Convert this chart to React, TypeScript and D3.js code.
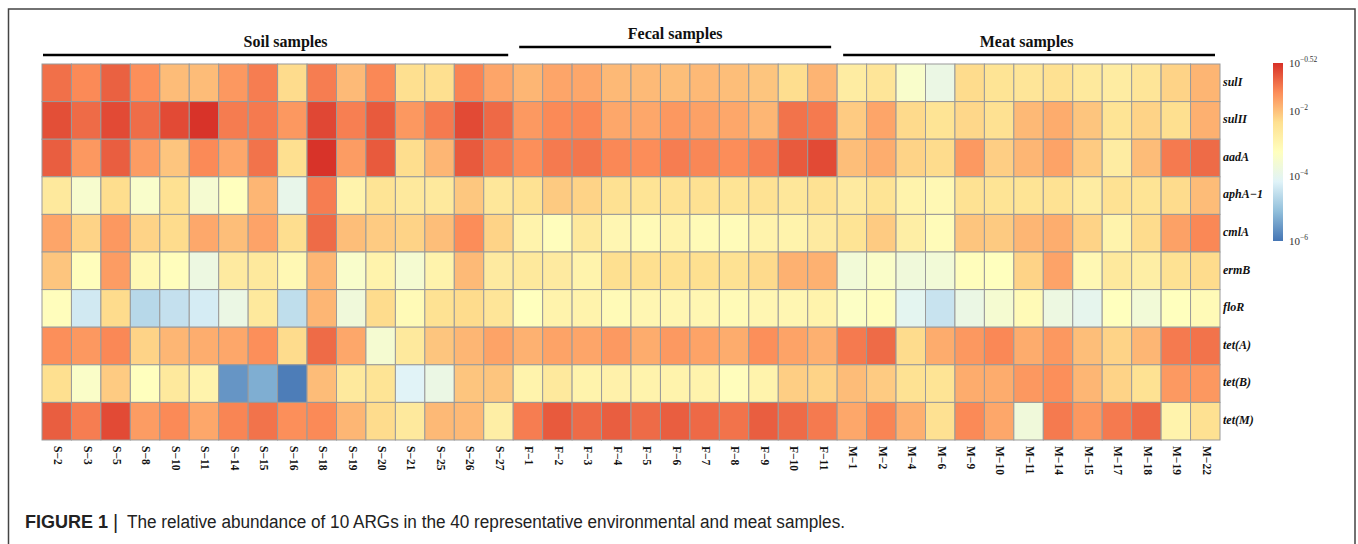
import React from "react";
import * as d3 from "d3";

const genes = ["sulI", "sulII", "aadA", "aphA−1", "cmlA", "ermB", "floR", "tet(A)", "tet(B)", "tet(M)"];

const soilSamples = ["S−2", "S−3", "S−5", "S−8", "S−10", "S−11", "S−14", "S−15", "S−16", "S−18", "S−19", "S−20", "S−21", "S−25", "S−26", "S−27"];
const fecalSamples = ["F−1", "F−2", "F−3", "F−4", "F−5", "F−6", "F−7", "F−8", "F−9", "F−10", "F−11"];
const meatSamples = ["M−1", "M−2", "M−4", "M−6", "M−9", "M−10", "M−11", "M−14", "M−15", "M−17", "M−18", "M−19", "M−22"];

const groupNames = ["Soil samples", "Fecal samples", "Meat samples"];

// log10 relative abundance, columns in the order soil, fecal, meat
const sulI = [-1.15, -1.4, -1.0, -1.45, -1.95, -1.95, -1.55, -1.28, -2.3, -1.28, -1.93, -1.38, -2.35, -2.35, -1.35, -1.7,
  -1.88, -1.7, -1.72, -1.92, -1.93, -1.97, -1.92, -1.97, -2.05, -2.33, -1.86,
  -2.7, -2.5, -3.45, -3.85, -2.3, -2.45, -2.5, -2.38, -2.6, -2.7, -2.5, -2.2, -1.87];
const sulII = [-0.82, -1.1, -0.78, -1.12, -0.78, -0.55, -1.27, -1.25, -1.55, -0.75, -1.3, -0.93, -1.55, -1.25, -0.78, -1.08,
  -1.57, -1.4, -1.38, -1.72, -1.72, -1.55, -1.65, -1.72, -1.88, -1.18, -1.25,
  -2.12, -1.7, -2.28, -2.45, -2.25, -2.38, -1.92, -1.77, -2.05, -2.45, -2.2, -2.35, -1.82];
const aadA = [-0.97, -1.55, -0.97, -1.6, -2.05, -1.4, -1.72, -1.18, -2.35, -0.55, -1.6, -0.93, -2.32, -1.88, -0.93, -1.25,
  -1.45, -1.25, -1.22, -1.38, -1.43, -1.28, -1.37, -1.43, -1.3, -0.93, -0.78,
  -1.97, -1.78, -2.2, -2.3, -1.57, -2.15, -1.88, -1.67, -2.12, -2.7, -1.95, -1.25, -1.1];
const aphA1 = [-2.6, -3.5, -2.32, -3.45, -2.38, -3.55, -3.25, -1.88, -3.95, -1.28, -2.9, -2.45, -2.6, -2.6, -2.07, -2.55,
  -2.4, -2.1, -2.2, -2.38, -2.45, -2.4, -2.38, -2.45, -2.4, -2.55, -2.4,
  -2.65, -2.45, -2.9, -3.05, -2.4, -2.45, -2.45, -2.4, -2.7, -2.4, -2.45, -2.3, -1.95];
const cmlA = [-1.7, -2.2, -1.55, -2.2, -2.3, -1.73, -1.97, -1.68, -2.33, -1.1, -1.97, -2.12, -2.2, -1.97, -1.43, -2.2,
  -2.9, -3.2, -2.6, -3.0, -3.1, -2.9, -3.1, -3.15, -2.9, -2.9, -2.65,
  -2.45, -2.12, -2.75, -3.15, -2.05, -2.1, -1.88, -1.78, -2.2, -2.9, -2.3, -1.65, -1.38];
const ermB = [-2.05, -3.2, -1.6, -3.05, -3.2, -3.8, -2.65, -2.6, -3.05, -1.88, -3.45, -2.9, -3.55, -2.9, -1.93, -2.65,
  -2.6, -2.65, -2.9, -2.35, -2.35, -2.35, -2.35, -2.4, -2.28, -1.83, -1.83,
  -3.65, -3.4, -3.7, -3.65, -3.2, -3.25, -2.2, -1.68, -3.05, -2.6, -2.75, -2.4, -2.3];
const floR = [-3.2, -4.35, -2.3, -4.65, -4.5, -4.3, -3.85, -2.6, -4.55, -1.88, -3.7, -2.3, -3.1, -2.4, -2.3, -2.5,
  -3.25, -2.9, -2.9, -3.1, -3.0, -3.0, -3.0, -3.1, -3.0, -3.0, -2.9,
  -3.35, -3.2, -4.05, -4.45, -3.85, -3.55, -3.1, -3.8, -4.0, -3.25, -3.65, -3.25, -3.1];
const tetA = [-1.45, -1.55, -1.38, -2.2, -1.88, -1.78, -1.72, -1.45, -2.3, -1.1, -1.72, -3.55, -2.6, -2.05, -1.88, -1.67,
  -1.83, -1.67, -1.7, -1.57, -1.77, -1.57, -1.67, -1.77, -1.45, -1.67, -1.82,
  -1.25, -1.1, -2.3, -1.77, -1.55, -1.38, -1.77, -1.55, -1.97, -2.2, -1.88, -1.25, -1.18];
const tetB = [-2.35, -3.4, -2.12, -3.25, -2.6, -2.9, -5.6, -5.3, -5.9, -1.95, -2.6, -2.45, -4.15, -3.85, -2.05, -2.05,
  -2.9, -2.6, -2.9, -2.85, -2.9, -2.9, -2.9, -3.2, -2.9, -2.15, -2.2,
  -1.95, -2.12, -2.4, -2.45, -1.77, -1.77, -1.55, -1.45, -1.88, -2.2, -2.4, -1.57, -1.55];
const tetM = [-0.97, -1.28, -0.78, -1.6, -1.4, -1.72, -1.35, -1.18, -1.45, -1.4, -1.88, -2.3, -2.6, -1.92, -1.92, -2.75,
  -1.28, -0.93, -1.1, -0.97, -1.1, -0.97, -1.08, -1.18, -0.97, -1.1, -1.25,
  -1.72, -1.35, -1.82, -2.38, -1.4, -1.72, -3.7, -1.25, -1.55, -1.25, -1.08, -2.9, -2.38];

const legendTicks = [-0.52, -2, -4, -6];
const legendTickLabels = ["−0.52", "−2", "−4", "−6"];
const palette = ["#4575B4", "#91BFDB", "#E0F3F8", "#FFFFBF", "#FEE090", "#FC8D59", "#D73027"];

const captionBold = "FIGURE 1";
const captionText = "The relative abundance of 10 ARGs in the 40 representative environmental and meat samples.";

export default function App() {
  const W = 1358, H = 544;
  const rows = [sulI, sulII, aadA, aphA1, cmlA, ermB, floR, tetA, tetB, tetM];
  const samples = [...soilSamples, ...fecalSamples, ...meatSamples];
  const groups = [soilSamples, fecalSamples, meatSamples];

  const x = d3.scaleBand<string>().domain(samples).range([42, 1220]).padding(0);
  const y = d3.scaleBand<string>().domain(genes).range([64, 440]).padding(0);

  const vmin = -6, vmax = -0.52;
  const stops = d3.range(palette.length).map((i) => vmin + (i * (vmax - vmin)) / (palette.length - 1));
  const color = d3.scaleLinear<string>().domain(stops).range(palette).interpolate(d3.interpolateRgb).clamp(true);

  const legendY = d3.scaleLinear().domain([vmax, vmin]).range([63, 241]);

  const serif = "'Liberation Serif', 'Times New Roman', serif";
  const sans = "'Liberation Sans', Arial, sans-serif";

  const groupLineY = [55, 47, 55];
  const groupTextY = [47, 39, 47];
  const groupTextDx = [8, 0, -2];
  const groupInsetL = [1, 6, 6];
  const groupInsetR = [5, 6, 5];

  const groupSpans = groups.map((g) => {
    const first = g[0];
    const last = g[g.length - 1];
    return { x0: x(first)!, x1: x(last)! + x.bandwidth() };
  });

  return (
    <svg width={W} height={H} style={{ position: "absolute", left: 0, top: 0, background: "#fff" }}>
      <defs>
        <linearGradient id="lg" x1="0" y1="1" x2="0" y2="0">
          {palette.map((c, i) => (
            <stop key={i} offset={`${(i / (palette.length - 1)) * 100}%`} stopColor={c} />
          ))}
        </linearGradient>
      </defs>
      <rect x={0} y={0} width={W} height={H} fill="#fff" />
      <path d={`M8.5,${H + 2} V9 H1355 V${H + 2}`} fill="none" stroke="#444" strokeWidth={1.5} />

      {groupSpans.map((s, i) => (
        <g key={i}>
          <line x1={s.x0 + groupInsetL[i]} x2={s.x1 - groupInsetR[i]} y1={groupLineY[i]} y2={groupLineY[i]} stroke="#000" strokeWidth={2.5} />
          <text x={(s.x0 + s.x1) / 2 + groupTextDx[i]} y={groupTextY[i]} textAnchor="middle" fontFamily={serif} fontWeight="bold" fontSize={16} fill="#111">
            {groupNames[i]}
          </text>
        </g>
      ))}

      {rows.map((vals, r) =>
        vals.map((v, c) => (
          <rect key={`${r}-${c}`} x={x(samples[c])} y={y(genes[r])} width={x.bandwidth()} height={y.bandwidth()} fill={color(v)} stroke="#9a9a9a" strokeWidth={1} />
        ))
      )}

      {genes.map((g) => (
        <text key={g} x={1223} y={y(g)! + y.bandwidth() / 2} dominantBaseline="middle" fontFamily={serif} fontStyle="italic" fontWeight="bold" fontSize={12} fill="#111">
          {g}
        </text>
      ))}

      {samples.map((s) => {
        const cx = x(s)! + x.bandwidth() / 2;
        return (
          <text key={s} transform={`translate(${cx},446) rotate(90)`} dominantBaseline="middle" fontFamily={serif} fontWeight="bold" fontSize={11.5} fill="#111">
            {s}
          </text>
        );
      })}

      <rect x={1273} y={63} width={10} height={178} fill="url(#lg)" />
      {legendTicks.map((t, i) => (
        <text key={t} x={1289} y={legendY(t) + 4} fontFamily={serif} fontSize={11} fill="#333">
          10
          <tspan dy={-5} fontSize={7.5}>{legendTickLabels[i]}</tspan>
        </text>
      ))}

      <text x={25} y={528} fontFamily={sans} fontWeight="bold" fontSize={18} fill="#222">{captionBold}</text>
      <text x={113} y={529} fontFamily={sans} fontSize={20} fill="#222">|</text>
      <text x={127} y={528} fontFamily={sans} fontSize={18} fill="#222" textLength={718} lengthAdjust="spacingAndGlyphs">{captionText}</text>
    </svg>
  );
}
